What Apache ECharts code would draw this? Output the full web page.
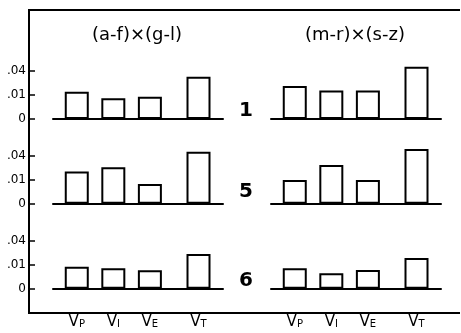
<!DOCTYPE html>
<html>
<head>
<meta charset="utf-8">
<script src="https://cdn.jsdelivr.net/npm/echarts@6/dist/echarts.min.js"></script>
<style>
  html, body { margin: 0; padding: 0; background: #fff; overflow: hidden; }
  #chart { width: 461px; height: 333px; }
</style>
</head>
<body>
<div id="chart"></div>
<script>
// bar positions on the x axis (V_T sits a little apart from the others)
const xPos = [1, 2, 3, 4.33]
const xNames = ['P', 'I', 'E', 'T']
const panelTitles = ['(a-f)×(g-l)', '(m-r)×(s-z)']
const rowNames = ['1', '5', '6']

// y ticks, axis drawn on a square-root scale
const tickVals = [0, 0.01, 0.04]
const tickLabels = ['0', '.01', '.04']

// values [row][panel]
const row1Left = [0.013, 0.0075, 0.0086, 0.031]
const row1Right = [0.019, 0.014, 0.014, 0.0475]
const row5Left = [0.018, 0.023, 0.0067, 0.047]
const row5Right = [0.0098, 0.026, 0.0098, 0.052]
const row6Left = [0.0084, 0.0072, 0.0059, 0.021]
const row6Right = [0.0072, 0.0041, 0.0061, 0.0164]
const rows = [[row1Left, row1Right], [row5Left, row5Right], [row6Left, row6Right]]

const FONT = 'DejaVu Sans'
const rowBase = [119, 203.7, 288.7]
const panelLeft = [53, 271]
const gridH = 66
const yMax = gridH / 240

const grids = []
const xAxes = []
const yAxes = []
const series = []

rows.forEach(function (row, r) {
  row.forEach(function (vals, p) {
    const idx = grids.length
    grids.push({ left: panelLeft[p], width: 170, top: rowBase[r] - gridH, height: gridH })
    xAxes.push({
      gridIndex: idx,
      type: 'value',
      min: 0.35,
      max: 5.0,
      axisLine: { show: true, onZero: false, lineStyle: { color: '#000', width: 2 } },
      axisTick: { show: false },
      splitLine: { show: false },
      axisLabel: r === 2 ? {
        show: true,
        customValues: xPos,
        margin: 25,
        formatter: function (v) {
          const i = xPos.indexOf(v)
          return i < 0 ? '' : '{v|V}{s|' + xNames[i] + '}'
        },
        rich: {
          v: { fontFamily: FONT, fontSize: 15, color: '#000' },
          s: { fontFamily: FONT, fontSize: 10, color: '#000', verticalAlign: 'bottom', padding: [6, 0, 0, 0] }
        }
      } : { show: false }
    })
    yAxes.push({
      gridIndex: idx,
      type: 'value',
      min: 0,
      max: yMax,
      offset: p === 0 ? 24 : 0,
      axisLine: { show: false },
      splitLine: { show: false },
      axisTick: p === 0 ? {
        show: true,
        inside: true,
        length: 6,
        customValues: tickVals.map(Math.sqrt),
        lineStyle: { color: '#000', width: 1.5 }
      } : { show: false },
      axisLabel: p === 0 ? {
        show: true,
        margin: 3,
        customValues: tickVals.map(Math.sqrt),
        fontFamily: FONT,
        fontSize: 12,
        color: '#000',
        formatter: function (v) {
          for (let i = 0; i < tickVals.length; i++) {
            if (Math.abs(Math.sqrt(tickVals[i]) - v) < 1e-9) return tickLabels[i]
          }
          return ''
        }
      } : { show: false }
    })
    series.push({
      type: 'bar',
      xAxisIndex: idx,
      yAxisIndex: idx,
      barWidth: 24,
      silent: true,
      itemStyle: { color: '#fff', borderColor: '#000', borderWidth: 2 },
      data: vals.map(function (v, i) { return [xPos[i], Math.sqrt(v)] })
    })
  })
})

const titleX = [137, 355]
const rowLabelY = [110.5, 191.5, 280.5]
const graphics = [
  // open frame: top, left and bottom sides
  {
    type: 'polyline',
    shape: { points: [[460, 10], [29, 10], [29, 313], [460, 313]] },
    style: { stroke: '#000', lineWidth: 2, fill: null }
  }
]
panelTitles.forEach(function (t, i) {
  graphics.push({
    type: 'text', x: titleX[i], y: 35,
    style: { text: t, fontFamily: FONT, fontSize: 18, fill: '#000', align: 'center', verticalAlign: 'middle' }
  })
})
rowNames.forEach(function (t, i) {
  graphics.push({
    type: 'text', x: 246, y: rowLabelY[i],
    style: { text: t, fontFamily: FONT, fontSize: 20, fontWeight: 'bold', fill: '#000', align: 'center', verticalAlign: 'middle' }
  })
})

const chart = echarts.init(document.getElementById('chart'))
chart.setOption({
  animation: false,
  backgroundColor: '#fff',
  grid: grids,
  xAxis: xAxes,
  yAxis: yAxes,
  series: series,
  graphic: graphics
})
</script>
</body>
</html>
